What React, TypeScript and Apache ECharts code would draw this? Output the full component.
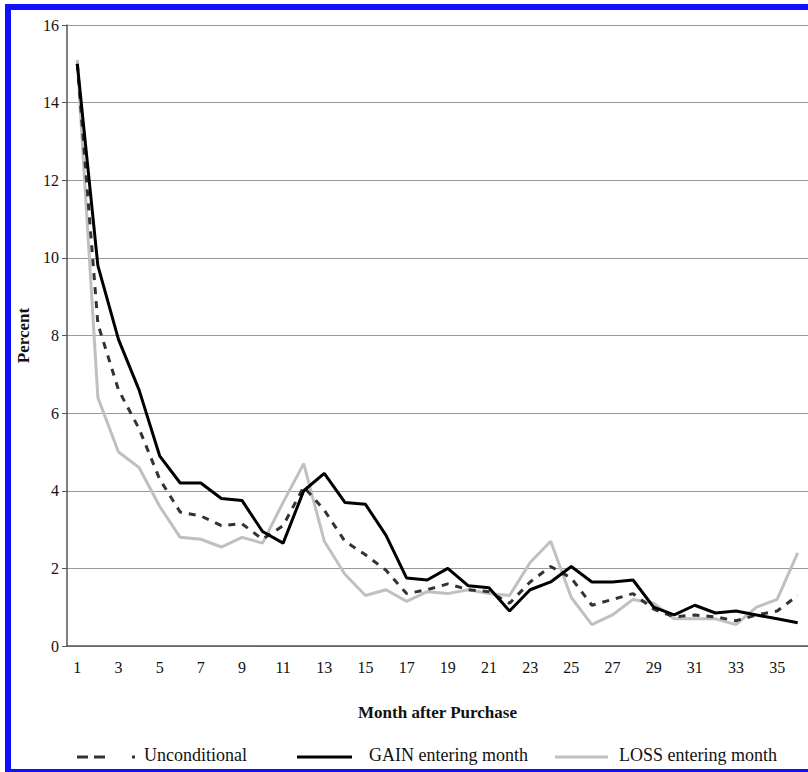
import React, { useRef, useEffect } from "react";
import * as echarts from "echarts";

const months = Array.from({ length: 36 }, (_, i) => String(i + 1));
const yTicks = [0, 2, 4, 6, 8, 10, 12, 14, 16];

const unconditional = [15, 8.3, 6.6, 5.6, 4.3, 3.45, 3.35, 3.1, 3.15, 2.75, 3.1, 4.1, 3.5, 2.7, 2.35, 1.95, 1.35, 1.45, 1.6, 1.45, 1.4, 1.1, 1.65, 2.05, 1.75, 1.05, 1.2, 1.35, 0.95, 0.75, 0.8, 0.75, 0.65, 0.8, 0.9, 1.3];
const gain = [15, 9.8, 7.9, 6.6, 4.9, 4.2, 4.2, 3.8, 3.75, 2.95, 2.65, 4.0, 4.45, 3.7, 3.65, 2.85, 1.75, 1.7, 2.0, 1.55, 1.5, 0.9, 1.45, 1.65, 2.05, 1.65, 1.65, 1.7, 1.0, 0.8, 1.05, 0.85, 0.9, 0.8, 0.7, 0.6];
const loss = [15.1, 6.4, 5.0, 4.6, 3.6, 2.8, 2.75, 2.55, 2.8, 2.65, 3.7, 4.7, 2.7, 1.85, 1.3, 1.45, 1.15, 1.4, 1.35, 1.45, 1.35, 1.3, 2.15, 2.7, 1.25, 0.55, 0.8, 1.2, 1.1, 0.7, 0.7, 0.7, 0.55, 1.0, 1.2, 2.4];

const FONT = "Liberation Serif";

const App = () => {
  const ref = useRef<HTMLDivElement>(null);

  useEffect(() => {
    const chart = echarts.init(ref.current, null, { renderer: "svg" });
    const legendText = (x: number, text: string) => ({
      type: "text", left: x, top: 746,
      style: { text, font: `18px "${FONT}"`, fill: "#111" },
    });
    const legendLine = (x1: number, w: number, stroke: string, dash?: number[]) => ({
      type: "line", shape: { x1, y1: 757, x2: x1 + w, y2: 757 },
      style: { stroke, lineWidth: 3, lineDash: dash },
    });
    chart.setOption({
      animation: false,
      grid: { left: 67, right: -10, top: 25, bottom: 126 },
      xAxis: {
        type: "category", data: months, boundaryGap: true,
        name: "Month after Purchase", nameLocation: "middle", nameGap: 58,
        nameTextStyle: { fontFamily: FONT, fontWeight: "bold", fontSize: 17, color: "#111" },
        axisLine: { lineStyle: { color: "#555", width: 1.5 } },
        axisTick: { interval: 0, length: 5, lineStyle: { color: "#555" } },
        axisLabel: { interval: 1, fontFamily: FONT, fontSize: 16, color: "#111", margin: 13 },
      },
      yAxis: {
        type: "value", min: 0, max: 16, interval: 2,
        name: "Percent", nameLocation: "middle", nameGap: 30,
        nameTextStyle: { fontFamily: FONT, fontWeight: "bold", fontSize: 17, color: "#111" },
        axisLine: { show: true, lineStyle: { color: "#555", width: 1.5 } },
        axisTick: { show: true, length: 5, lineStyle: { color: "#555" } },
        axisLabel: {
          fontFamily: FONT, fontSize: 16, color: "#111", margin: 8,
          formatter: (v: number) => (yTicks.includes(v) ? String(v) : ""),
        },
        splitLine: { lineStyle: { color: "#999", width: 1 } },
      },
      series: [
        { name: "Unconditional", type: "line", data: unconditional, symbol: "none", lineStyle: { color: "#333", width: 3, type: [7, 7] }, z: 2 },
        { name: "LOSS entering month", type: "line", data: loss, symbol: "none", lineStyle: { color: "#c0c0c0", width: 3 }, z: 1 },
        { name: "GAIN entering month", type: "line", data: gain, symbol: "none", lineStyle: { color: "#000", width: 3 }, z: 3 },
      ],
      graphic: [
        legendLine(77, 60, "#333", [11, 6, 11, 27, 3, 100]),
        legendText(144, "Unconditional"),
        legendLine(297, 55, "#000"),
        legendText(369, "GAIN entering month"),
        legendLine(555, 53, "#c0c0c0"),
        legendText(619, "LOSS entering month"),
      ],
    });
    return () => chart.dispose();
  }, []);

  return (
    <div style={{ position: "absolute", left: 0, top: 0, width: 808, height: 772, overflow: "hidden", background: "#fff" }}>
      <div
        style={{
          position: "absolute", left: 5, top: 4, width: 815, height: 768,
          boxSizing: "border-box", borderStyle: "solid", borderColor: "#1010ff",
          borderWidth: "6px 6px 3px 6px",
        }}
      />
      <div ref={ref} style={{ position: "absolute", left: 0, top: 0, width: 808, height: 772 }} />
    </div>
  );
};

export default App;
